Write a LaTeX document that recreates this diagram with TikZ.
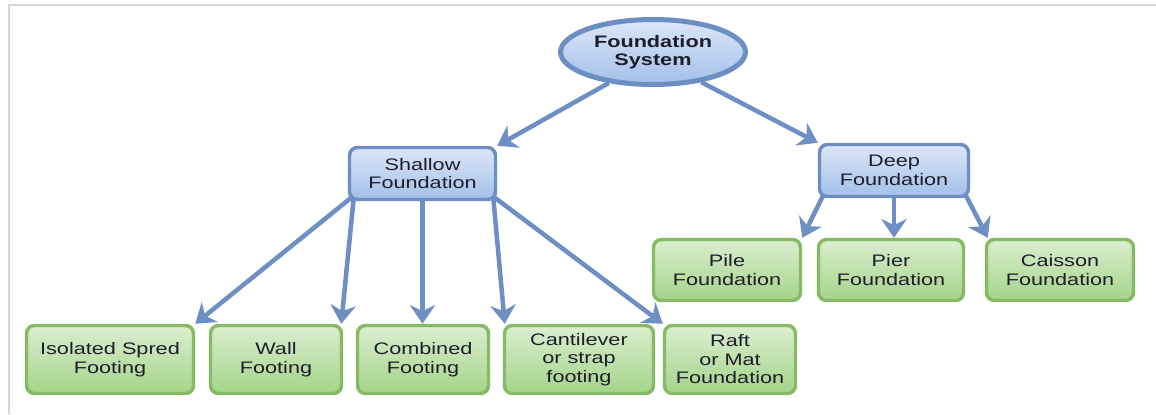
\documentclass[tikz,border=0pt]{standalone}
\usepackage{fontspec}
\setmainfont{Liberation Sans}[FakeStretch=1.3]
\usetikzlibrary{arrows.meta,shapes.geometric,backgrounds}
\definecolor{bluebd}{HTML}{6C8EC2}
\definecolor{bluetop}{HTML}{DCE7F8}
\definecolor{bluebot}{HTML}{A3BFEA}
\definecolor{greenbd}{HTML}{88B965}
\definecolor{greentop}{HTML}{DAEED0}
\definecolor{greenbot}{HTML}{A4D489}
\definecolor{arrowc}{HTML}{6E8FC3}
\definecolor{txt}{HTML}{1E1E2A}
\definecolor{framec}{HTML}{D6D6D6}
\begin{document}
\begin{tikzpicture}[x=0.75pt,y=-0.75pt,
  basebox/.style={rectangle, rounded corners=6pt, inner sep=0pt, line width=2.6pt,
    align=center, text=txt, font=\fontsize{12.5}{13.9}\selectfont},
  bluebox/.style={basebox, draw=bluebd, top color=bluetop, bottom color=bluebot},
  greenbox/.style={basebox, draw=greenbd, top color=greentop, bottom color=greenbot},
  rootnode/.style={ellipse, inner sep=0pt, line width=3.75pt, draw=bluebd,
    top color=bluetop, bottom color=bluebot, align=center, text=txt,
    font=\bfseries\fontsize{12.5}{13.9}\selectfont,
    minimum width=138.75pt, minimum height=48.75pt},
  arr/.style={draw=arrowc, line width=3.4pt,
    -{Stealth[length=14pt,width=19pt,inset=4.5pt]}}
]
\useasboundingbox (0,0) rectangle (1156,414);
\coordinate (fa) at (8,4.5);
\coordinate (fb) at (1156,4.5);
\coordinate (fc) at (8.5,414);
\draw[framec, line width=1.5pt] (fc) -- (8.5,4.5) -- (fb);

\node[rootnode] (sys) at (653,52) {Foundation\\System};

\node[bluebox, minimum width=109.5pt, minimum height=39pt] (shallow) at (422.5,173.5) {Shallow\\Foundation};
\node[bluebox, minimum width=111.75pt, minimum height=39pt] (deep) at (894,170.5) {Deep\\Foundation};

\node[greenbox, minimum width=110.25pt, minimum height=45.75pt] (pile) at (727,270) {Pile\\Foundation};
\node[greenbox, minimum width=108.75pt, minimum height=45.75pt] (pier) at (891,270) {Pier\\Foundation};
\node[greenbox, minimum width=110.25pt, minimum height=45.75pt] (caisson) at (1060,270) {Caisson\\Foundation};

\node[greenbox, minimum width=125.25pt, minimum height=51pt] (iso) at (110,359.5) {Isolated Spred\\Footing};
\node[greenbox, minimum width=98.25pt, minimum height=51pt] (wall) at (276,359.5) {Wall\\Footing};
\node[greenbox, minimum width=98.25pt, minimum height=51pt] (comb) at (423,359.5) {Combined\\Footing};
\node[greenbox, minimum width=111.75pt, minimum height=51pt] (cant) at (579,359.5) {Cantilever\\or strap\\footing};
\node[greenbox, minimum width=98.25pt, minimum height=51pt] (raft) at (730,359.5) {Raft\\or Mat\\Foundation};

\begin{scope}[on background layer]
\draw[arr] (sys.215) -- (shallow.north east);
\draw[arr] (sys.328) -- (deep.north west);
\draw[arr] ([shift={(4,-4)}]shallow.south west) -- (iso.north east);
\draw[arr] ([shift={(6,-4)}]shallow.south west) -- ([shift={(-2,0)}]wall.north east);
\draw[arr] ([shift={(0,-4)}]shallow.south) -- (shallow.south |- comb.north);
\draw[arr] ([shift={(-4,-4)}]shallow.south east) -- ([shift={(2,0)}]cant.north west);
\draw[arr] ([shift={(-3,-4)}]shallow.south east) -- (raft.north west);
\draw[arr] ([shift={(6,-4)}]deep.south west) -- (pile.north east);
\draw[arr] ([shift={(0,-4)}]deep.south) -- (deep.south |- pier.north);
\draw[arr] ([shift={(-5,-4)}]deep.south east) -- ([shift={(3,0)}]caisson.north west);
\end{scope}
\end{tikzpicture}
\end{document}
